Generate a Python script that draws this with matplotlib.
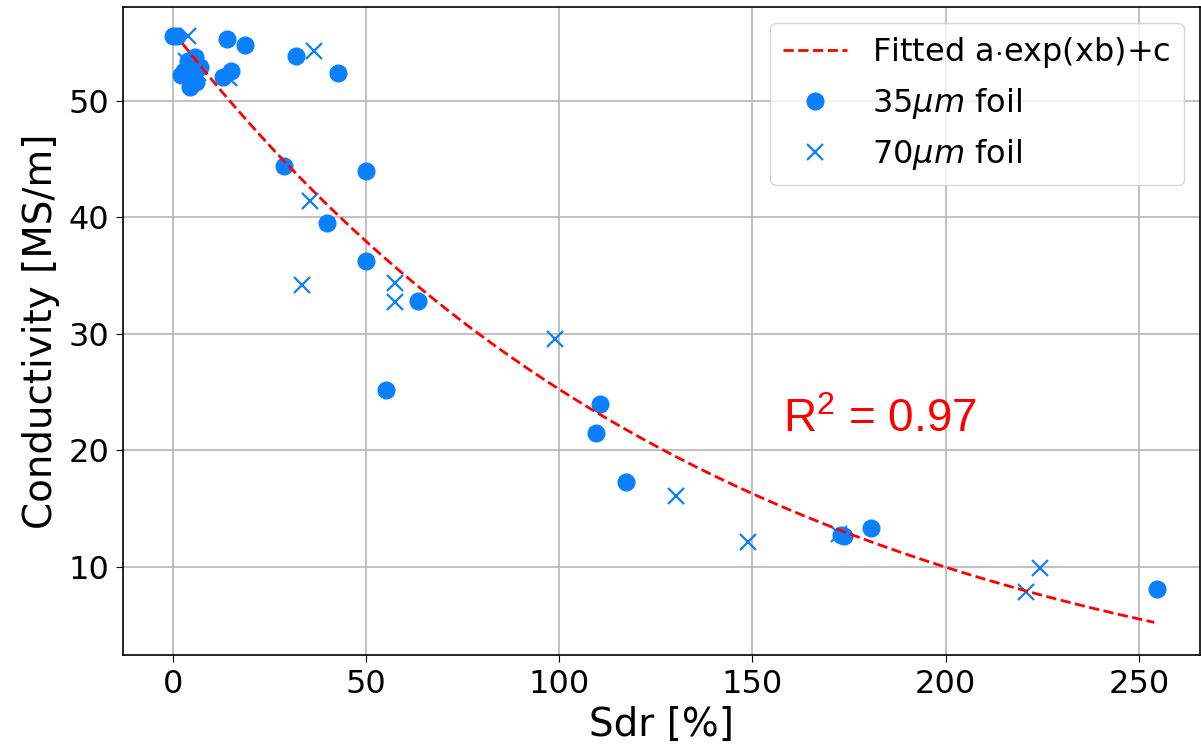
import numpy as np
import matplotlib.pyplot as plt

sdr_35 = [0, 1, 14, 18.7, 31.8, 42.8,
          5.7, 3.9, 2.2, 5.2, 7.0, 4.4, 6.1, 3.0,
          13.0, 15.1, 28.7, 50.0, 40.0, 49.9, 63.5, 55.3,
          110.5, 109.5, 117.2, 173.0, 173.6, 180.8, 254.6]
cond_35 = [55.6, 55.6, 55.3, 54.8, 53.9, 52.4,
           53.8, 53.4, 52.2, 52.5, 52.9, 51.2, 51.6, 52.6,
           52.1, 52.6, 44.4, 44.0, 39.5, 36.3, 32.8, 25.2,
           24.0, 21.5, 17.3, 12.7, 12.6, 13.3, 8.1]

sdr_70 = [4.0, 36.6, 3.4, 6.6, 14.6, 35.5, 33.5, 57.5, 57.5,
          98.9, 130.2, 148.8, 172.4, 224.4, 220.8]
cond_70 = [55.6, 54.3, 53.4, 52.4, 52.0, 41.4, 34.2, 34.4, 32.7,
           29.6, 16.1, 12.1, 12.8, 9.9, 7.8]

# Fit-Parameter a*exp(x*b)+c
fit_a, fit_b, fit_c = 61.1, -0.007, -5.1
fit_x_min, fit_x_max = 2.5, 254.0
r2_text = 'R$^2$ = 0.97'

blue = '#0a80ff'

plt.rcParams['mathtext.fontset'] = 'custom'
plt.rcParams['mathtext.rm'] = 'Liberation Sans'

fig = plt.figure(figsize=(12.01, 7.48), dpi=100)
ax = fig.add_axes([0.1024, 0.124, 0.8966, 0.867])

x_fit = np.linspace(fit_x_min, fit_x_max, 300)
ax.plot(x_fit, fit_a * np.exp(x_fit * fit_b) + fit_c, 'r--', lw=2.0,
        label='Fitted a$\\cdot$exp(xb)+c', zorder=4)
ax.plot(sdr_35, cond_35, 'o', color=blue, ms=12, label='35$\\mu m$ foil', zorder=3)
ax.plot(sdr_70, cond_70, 'x', color=blue, ms=12, mew=1.6, label='70$\\mu m$ foil', zorder=2)

ax.text(158, 21.6, r2_text, color='red', fontsize=33, family='Liberation Sans',
        ha='left', va='baseline')

ax.set_xlim(-12.9, 265.8)
ax.set_ylim(2.4, 58.1)
ax.set_xticks([0, 50, 100, 150, 200, 250])
ax.set_yticks([10, 20, 30, 40, 50])
ax.grid(True, color='#b0b0b0', lw=1.1)
ax.set_axisbelow(True)
ax.tick_params(labelsize=23, length=5, pad=5)
for s in ax.spines.values():
    s.set_linewidth(1.2)

ax.set_xlabel('Sdr [%]', fontsize=28, labelpad=4)
ax.set_ylabel('Conductivity [MS/m]', fontsize=28, labelpad=6)
ax.legend(loc='upper right', fontsize=23, borderaxespad=0.5)

fig.savefig('out.png', dpi=100)
